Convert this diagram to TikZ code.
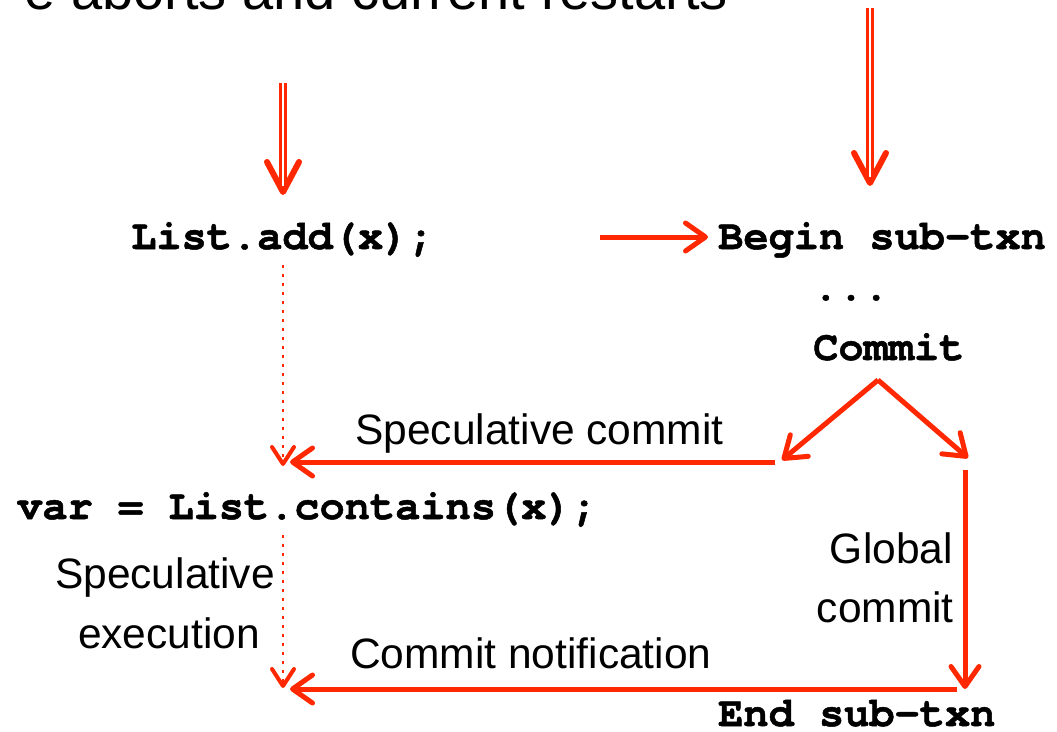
\documentclass[tikz,border=0pt]{standalone}
\usepackage{fontspec}
\setmainfont{Liberation Sans}
\newfontfamily\codefont{texgyrecursor}[Extension=.otf, UprightFont=*-regular, BoldFont=*-bold, BoldFeatures={FakeBold=1.2}, Ligatures=NoCommon]
\usetikzlibrary{arrows.meta}
\definecolor{myred}{RGB}{255,40,0}
\begin{document}
\begin{tikzpicture}[x=1pt,y=-1pt,
  code/.style={inner sep=0pt, anchor=base west, font=\fontsize{42}{50}\selectfont\codefont\bfseries},
  lbl/.style={inner sep=0pt, font=\fontsize{42.5}{60}\selectfont},
  flow/.style={draw=myred, line width=5pt, -{Straight Barb[length=20pt,width=28pt,line cap=round,line join=round]}},
  specflow/.style={draw=myred, line width=2.5pt, dash pattern=on 3pt off 6pt, -{Straight Barb[length=17pt,width=22pt,line width=4pt,line cap=round,line join=round]}},
  dbl/.style={draw=myred, line width=2.5pt, double=white, double distance=2.5pt, shorten >=6pt},
  dblhead/.style={draw=myred, line width=6pt, line cap=round, line join=round},
]
\useasboundingbox[fill=white] (0,0) rectangle (1057,731);
\begin{scope}
\clip (0,0) rectangle (1057,731);
\node[inner sep=0pt, anchor=base east, font=\fontsize{56}{60}\selectfont] (top) at (728,9) {e aborts and current restarts};
\end{scope}

% code nodes
\node[code] (add) at (131,249) {List.add(x);};
\node[code] (begin) at (718,249) {Begin sub-txn};
\node[code] (dots) at (813,300) {...};
\node[code] (commit) at (813,360) {Commit};
\node[code] (var) at (17,519) {var = List.contains(x);};
\node[code] (end) at (718,726) {End sub-txn};

% labels
\node[lbl, anchor=base west] (lspec) at (355,444) {Speculative commit};
\node[lbl, anchor=base] (lspecex1) at (165,588) {Speculative};
\node[lbl, anchor=base] (lspecex2) at (169,648) {execution};
\node[lbl, anchor=base east] (lglob1) at (953,563) {Global};
\node[lbl, anchor=base east] (lglob2) at (954,622) {commit};
\node[lbl, anchor=base west] (lnote) at (350,668) {Commit notification};

% coordinates
\coordinate (d1s) at (283,83);
\coordinate (d1t) at (283,192);
\coordinate (d2s) at (870,8);
\coordinate (d2t) at (870,183);
\coordinate (hs) at (600,237);
\coordinate (ht) at (708,237);
\coordinate (ds1) at (283,265);
\coordinate (dt1) at (283,466);
\coordinate (cs) at (775,462);
\coordinate (ct) at (290,462);
\coordinate (apex) at (878,380);
\coordinate (lt) at (782,460);
\coordinate (rt) at (968,458);
\coordinate (gs) at (965,470);
\coordinate (gt) at (965,689);
\coordinate (ns) at (957,689);
\coordinate (nt) at (290,689);
\coordinate (ds2) at (283,535);
\coordinate (dt2) at (283,688);

% double arrows
\draw[dblhead] (d1t) ++(-16,-30) -- (d1t) -- ++(16,-30);
\draw[dbl] (d1s) -- (d1t);
\draw[dblhead] (d2t) ++(-16,-30) -- (d2t) -- ++(16,-30);
\draw[dbl] (d2s) -- (d2t);

% flows
\draw[flow] (hs) -- (ht);
\draw[specflow] (ds1) -- (dt1);
\draw[flow] (cs) -- (ct);
\draw[flow] (apex) -- (lt);
\draw[flow] (apex) -- (rt);
\draw[flow] (gs) -- (gt);
\draw[flow] (ns) -- (nt);
\draw[specflow] (ds2) -- (dt2);
\end{tikzpicture}
\end{document}
